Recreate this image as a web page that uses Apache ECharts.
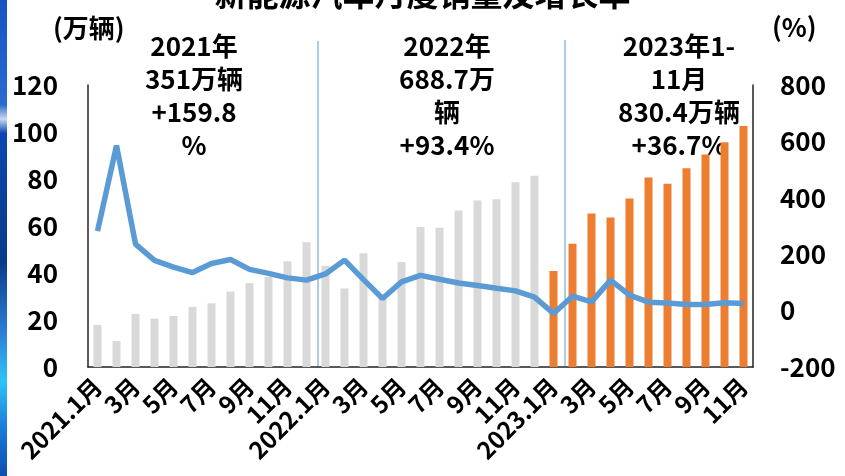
<!DOCTYPE html>
<html>
<head>
<meta charset="utf-8">
<script src="https://cdn.jsdelivr.net/npm/echarts@6/dist/echarts.min.js"></script>
<style>
  html, body { margin: 0; padding: 0; background: #fff; }
  #nev { width: 845px; height: 476px; }
</style>
</head>
<body>
<div id="nev"></div>
<script>
// 月份
var months = ['2021.1月','2月','3月','4月','5月','6月','7月','8月','9月','10月','11月','12月',
              '2022.1月','2月','3月','4月','5月','6月','7月','8月','9月','10月','11月','12月',
              '2023.1月','2月','3月','4月','5月','6月','7月','8月','9月','10月','11月']
// 月度销量（万辆）
var sales = [17.9, 11.0, 22.6, 20.6, 21.7, 25.6, 27.1, 32.1, 35.7, 38.3, 45.0, 53.1,
             43.1, 33.4, 48.4, 29.9, 44.7, 59.6, 59.3, 66.6, 70.8, 71.4, 78.6, 81.4,
             40.8, 52.5, 65.3, 63.6, 71.7, 80.6, 78.0, 84.6, 90.4, 95.6, 102.6]
// 同比增长率（%）
var growth = [282, 585, 236, 178, 154, 135, 167, 181, 146, 132, 116, 108,
              130, 179, 110, 43, 102, 125, 111, 98, 89, 79, 70, 48,
              -10, 51, 31, 108, 55, 30, 27, 22, 22, 28, 25]
// 年度注释
var yearNotes = ['2021年\n351万辆\n+159.8\n%', '2022年\n688.7万\n辆\n+93.4%', '2023年1-\n11月\n830.4万辆\n+36.7%']

var font = '"Noto Sans CJK SC", "Noto Sans", sans-serif'

var chart = echarts.init(document.getElementById('nev'))
var options = {
    animation: false,
    textStyle: { fontFamily: font },
    grid: { left: 88, right: 92, top: 85, bottom: 109 },
    xAxis: [{
        type: 'category',
        data: months,
        axisLine: { lineStyle: { color: '#222', width: 1.5 } },
        axisTick: { show: false },
        axisLabel: {
            interval: 1,
            rotate: 45,
            margin: 15,
            color: '#000',
            fontWeight: 'bold',
            fontSize: 24,
            fontFamily: font
        }
    }],
    yAxis: [{
        type: 'value',
        min: 0, max: 120, interval: 20,
        axisLine: { show: true, lineStyle: { color: '#222', width: 1.5 } },
        axisTick: { show: false },
        splitLine: { show: false },
        axisLabel: { color: '#000', fontWeight: 'bold', fontSize: 26, margin: 30, fontFamily: font }
    }, {
        type: 'value',
        min: -200, max: 800, interval: 200,
        axisLine: { show: true, lineStyle: { color: '#222', width: 1.5 } },
        axisTick: { show: false },
        splitLine: { show: false },
        axisLabel: { color: '#000', fontWeight: 'bold', fontSize: 26, margin: 27, fontFamily: font }
    }],
    series: [{
        name: '销量',
        type: 'bar',
        barWidth: 8,
        data: sales,
        itemStyle: {
            color: function (p) { return p.dataIndex >= 24 ? '#ed7d31' : '#d9d9d9' }
        },
        z: 2
    }, {
        name: '增长率',
        type: 'line',
        yAxisIndex: 1,
        data: growth,
        symbol: 'none',
        lineStyle: { color: '#5b9bd5', width: 5.5 },
        z: 3
    }]
}
chart.setOption(options)

// 年份分隔线位置
function sepX(i) {
    var a = chart.convertToPixel({ xAxisIndex: 0 }, i - 1)
    var b = chart.convertToPixel({ xAxisIndex: 0 }, i)
    return (a + b) / 2 + 2
}
var x1 = sepX(12), x2 = sepX(25)
var noteStyle = { fill: '#000', font: 'bold 26px ' + font, textAlign: 'center', lineHeight: 33 }

chart.setOption({
    graphic: [
        { type: 'rect', left: 0, top: 0, shape: { width: 7, height: 476 },
          style: { fill: new echarts.graphic.LinearGradient(0, 0, 0, 1, [
              { offset: 0, color: '#1553c4' }, { offset: 0.22, color: '#2a6ad0' },
              { offset: 0.25, color: '#c9d9f0' }, { offset: 0.28, color: '#0b47b0' },
              { offset: 0.55, color: '#0a3a8a' }, { offset: 0.7, color: '#2d80d8' },
              { offset: 0.8, color: '#2fc4f6' }, { offset: 0.9, color: '#1a7ad8' },
              { offset: 1, color: '#0c4fb0' }]) } },
        { type: 'text', left: 'center', top: -22, style: { text: '新能源汽车月度销量及增长率', fill: '#000', font: 'bold 32px ' + font } },
        { type: 'text', left: 53, top: 15, style: { text: '(万辆)', fill: '#000', font: 'bold 26px ' + font } },
        { type: 'text', left: 772, top: 14, style: { text: '(%)', fill: '#000', font: 'bold 26px ' + font } },
        { type: 'line', shape: { x1: x1, y1: 41, x2: x1, y2: 366 }, style: { stroke: '#5b9bd5', lineWidth: 1 } },
        { type: 'line', shape: { x1: x2, y1: 40, x2: x2, y2: 366 }, style: { stroke: '#5b9bd5', lineWidth: 1 } },
        { type: 'text', x: 194, y: 30, style: Object.assign({ text: yearNotes[0] }, noteStyle) },
        { type: 'text', x: 447, y: 30, style: Object.assign({ text: yearNotes[1] }, noteStyle) },
        { type: 'text', x: 679, y: 30, style: Object.assign({ text: yearNotes[2] }, noteStyle) }
    ]
})
</script>
</body>
</html>
